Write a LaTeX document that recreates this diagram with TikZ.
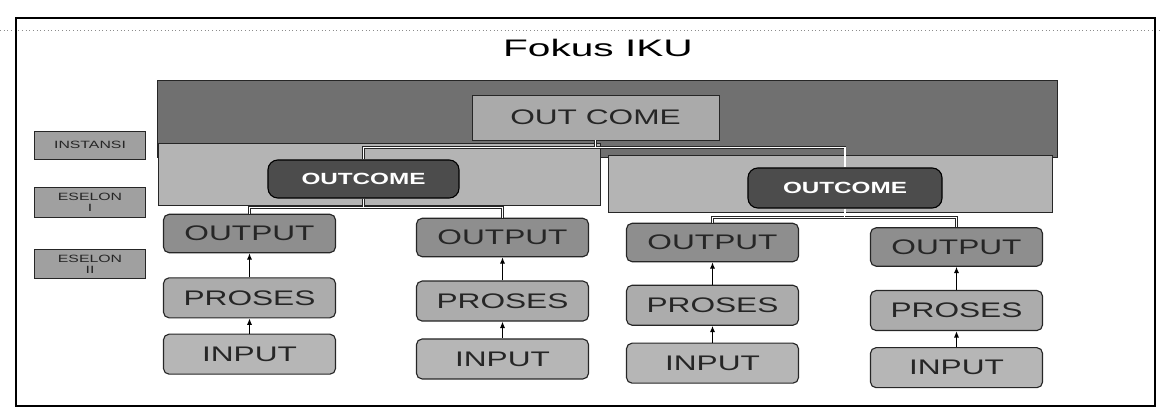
\documentclass[tikz,border=0pt]{standalone}
\usepackage{fontspec}
\setmainfont{Liberation Sans}
\newfontfamily\widefont[FakeStretch=1.5]{Liberation Sans}
\newfontfamily\titlefont[FakeStretch=1.7]{Liberation Sans}
\usetikzlibrary{arrows.meta,positioning}
\definecolor{Band}{HTML}{707070}
\definecolor{Panel}{HTML}{B4B4B4}
\definecolor{Goal}{HTML}{AAAAAA}
\definecolor{Outcome}{HTML}{4C4C4C}
\definecolor{OutGray}{HTML}{8E8E8E}
\definecolor{ProcGray}{HTML}{ACACAC}
\definecolor{InGray}{HTML}{B6B6B6}
\definecolor{TagGray}{HTML}{A0A0A0}
\definecolor{Ink}{HTML}{262626}
\tikzset{
  box/.style={draw=Ink,line width=.8pt,rounded corners=4pt,minimum width=4.3cm,minimum height=1cm,text=Ink,font=\widefont\fontsize{15}{15}\selectfont},
  outbox/.style={box,fill=OutGray,minimum height=.96cm},
  procbox/.style={box,fill=ProcGray},
  inbox/.style={box,fill=InGray},
  tag/.style={draw=Ink,fill=TagGray,line width=.6pt,minimum width=2.78cm,align=center,inner sep=1pt,text=Ink,font=\widefont\fontsize{7.5}{8}\selectfont},
  band/.style={draw=Ink,fill=Band,line width=.6pt},
  panel/.style={draw=Ink,fill=Panel,line width=.6pt},
  goal/.style={draw=Ink,fill=Goal,line width=.5pt,text=Ink,font=\widefont\fontsize{15}{15}\selectfont},
  outcome/.style={draw=black,fill=Outcome,line width=.8pt,rounded corners=7pt,text=white,font=\widefont\bfseries\fontsize{11.5}{12}\selectfont},
  link/.style={draw=Ink,double=white,double distance=.9pt,line width=.45pt},
  up/.style={-{Latex[length=1.6mm,width=1.3mm]},draw=black,line width=.8pt}
}
\begin{document}
\begin{tikzpicture}[x=0.025cm,y=-0.025cm]
      \useasboundingbox (0,0) rectangle (1160,420);
      \draw[black!45,dotted,line width=.6pt] (0,30) -- (1160,30);
      \draw[black,line width=.9pt] (16,18) rectangle (1155,406);
      \node[font=\titlefont\fontsize{17}{20}\selectfont] (title) at (598,48) {Fokus IKU};
      % side labels
      \node[tag,minimum height=.7cm] (instansi) at (90,145) {INSTANSI};
      \node[tag,minimum height=.75cm] (eselon1) at (90,202) {ESELON\\I};
      \node[tag,minimum height=.73cm] (eselon2) at (90,264) {ESELON\\II};
      % instansi band and eselon panels
      \node[band,minimum width=22.475cm,minimum height=1.925cm] (band) at (607.5,118.5) {};
      \node[goal,minimum width=6.175cm,minimum height=1.125cm] (goal) at (595.5,117.5) {OUT COME};
      \node[panel,minimum width=11.05cm,minimum height=1.55cm] (panelL) at (379,174) {};
      \node[panel,minimum width=11.1cm,minimum height=1.425cm] (panelR) at (830,183.5) {};
      \node[outcome,minimum width=4.775cm,minimum height=.95cm] (ocL) at (363.5,179) {OUTCOME};
      \node[outcome,minimum width=4.85cm,minimum height=1cm] (ocR) at (845,188) {OUTCOME};
      \draw[link] (goal.south) -- ++(0,7) -| (ocL.north);
      \draw[link] (goal.south) ++(0,7) -| (ocR.north);
      % eselon II columns
      \node[outbox] (out1) at (249.5,233.5) {OUTPUT};
      \node[outbox] (out2) at (502.5,237.5) {OUTPUT};
      \node[outbox] (out3) at (712.5,242.5) {OUTPUT};
      \node[outbox] (out4) at (956.5,247) {OUTPUT};
      \node[procbox,below=.6cm of out1] (pro1) {PROSES};
      \node[procbox,below=.58cm of out2] (pro2) {PROSES};
      \node[procbox,below=.56cm of out3] (pro3) {PROSES};
      \node[procbox,below=.58cm of out4] (pro4) {PROSES};
      \node[inbox,below=.38cm of pro1] (in1) {INPUT};
      \node[inbox,below=.42cm of pro2] (in2) {INPUT};
      \node[inbox,below=.42cm of pro3] (in3) {INPUT};
      \node[inbox,below=.4cm of pro4] (in4) {INPUT};
      \draw[link] (ocL.south) -- ++(0,9) -| (out1.north);
      \draw[link] (ocL.south) ++(0,9) -| (out2.north);
      \draw[link] (ocR.south) -- ++(0,9) -| (out3.north);
      \draw[link] (ocR.south) ++(0,9) -| (out4.north);
      \foreach \c in {1,2,3,4} {
        \draw[up] (pro\c.north) -- (out\c.south);
        \draw[up] (in\c.north) -- (pro\c.south);
      }
    \end{tikzpicture}
\end{document}
